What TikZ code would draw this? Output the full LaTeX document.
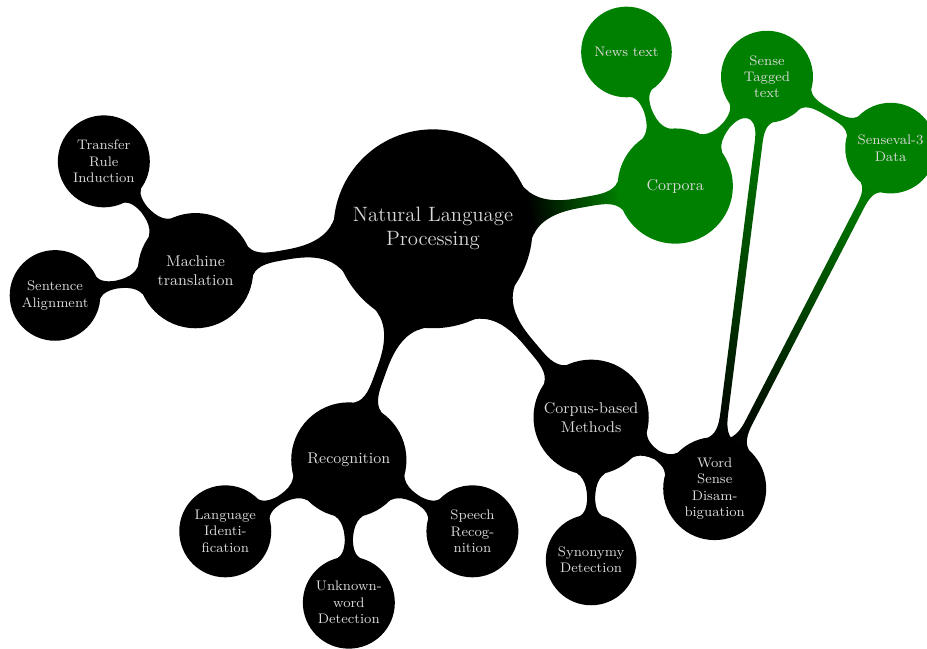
\documentclass[tikz,border=0pt]{standalone}
\usepackage{tikz}
\usetikzlibrary{mindmap,calc}
\colorlet{corpcolor}{green!50!black}

\begin{document}
\begin{tikzpicture}[
  mindmap,
  concept color=black,
  text=white!85!black,
  rootconcept/.style={concept,minimum size=4cm,text width=3.5cm,
    align=center,font=\large},
  topicconcept/.style={concept,minimum size=2.3cm,text width=2cm,
    align=center,font=\small},
  leafconcept/.style={concept,minimum size=1.8cm,text width=1.5cm,
    align=center,font=\footnotesize},
  bar/.style 2 args={circle connection bar switch color=from (#1) to (#2)}
]
\useasboundingbox (-8.80,-8.52) rectangle (10.04,4.65);

% centre and first ring
\node[rootconcept] (nlp) at (0,0) {Natural Language Processing};
\node[topicconcept,concept color=corpcolor] (corpora) at ($(nlp)+(10:5)$) {Corpora};
\node[topicconcept] (methods) at ($(nlp)+(-50:5)$) {Corpus-based Methods};
\node[topicconcept] (recog) at ($(nlp)+(-110:5)$) {Recognition};
\node[topicconcept] (mt) at ($(nlp)+(-170:4.9)$) {Machine translation};

% corpora
\node[leafconcept,concept color=corpcolor] (news) at ($(corpora)+(110:2.9)$) {News text};
\node[leafconcept,concept color=corpcolor] (tagged) at ($(corpora)+(50:2.9)$) {Sense Tagged text};
\node[leafconcept,concept color=corpcolor] (senseval) at ($(tagged)+(-30:2.9)$) {Senseval-3 Data};

% methods
\node[leafconcept] (wsd) at ($(methods)+(-30:2.9)$) {Word Sense Disambiguation};
\node[leafconcept] (synonym) at ($(methods)+(-90:2.9)$) {Synonymy Detection};

% recognition
\node[leafconcept] (langid) at ($(recog)+(210:2.9)$) {Language Identification};
\node[leafconcept] (unknown) at ($(recog)+(-90:2.9)$) {Unknown-word Detection};
\node[leafconcept] (speech) at ($(recog)+(-30:2.9)$) {Speech Recognition};

% machine translation
\node[leafconcept] (transfer) at ($(mt)+(130:2.9)$) {Transfer Rule Induction};
\node[leafconcept] (align) at ($(mt)+(190:2.9)$) {Sentence Alignment};

% connections
\path (nlp) to[bar={black}{corpcolor}] (corpora);
\foreach \a/\b in {nlp/methods,nlp/recog,nlp/mt,methods/wsd,methods/synonym,
  recog/langid,recog/unknown,recog/speech,mt/transfer,mt/align}
  \path (\a) to[bar={black}{black}] (\b);
\foreach \a/\b in {corpora/news,corpora/tagged,tagged/senseval}
  \path (\a) to[bar={corpcolor}{corpcolor}] (\b);
\path (tagged) to[bar={corpcolor}{black}] (wsd);
\path (senseval) to[bar={corpcolor}{black}] (wsd);
\end{tikzpicture}
\end{document}
